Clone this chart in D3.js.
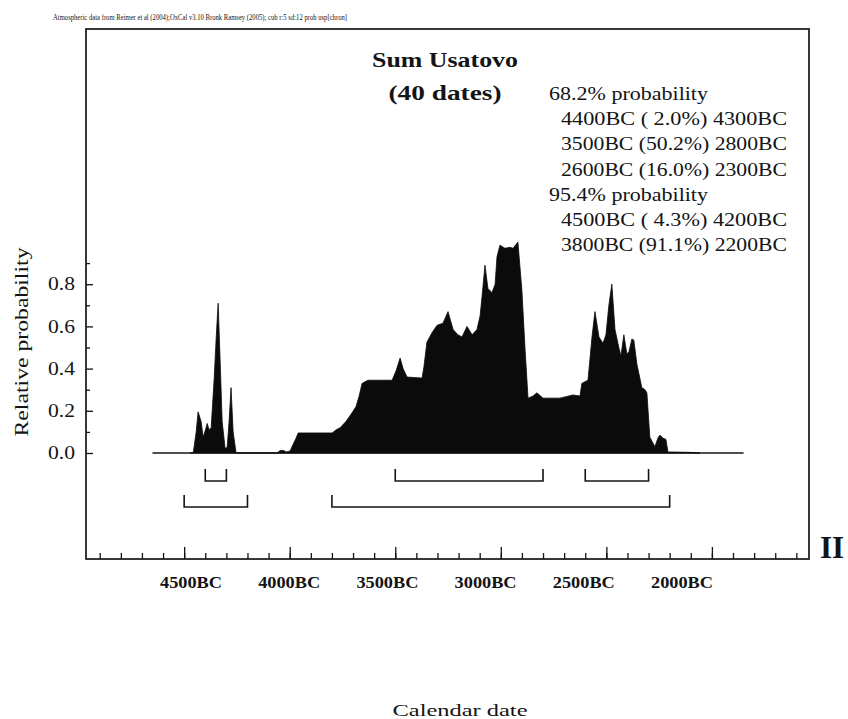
<!DOCTYPE html>
<html>
<head>
<meta charset="utf-8">
<script src="https://cdnjs.cloudflare.com/ajax/libs/d3/7.8.5/d3.min.js"></script>
<style>
  body { margin: 0; background: #fff; }
  svg { display: block; }
  text { font-family: "Liberation Serif", "Times New Roman", serif; fill: #141414; }
</style>
</head>
<body>
<svg width="848" height="719"></svg>
<script>
//Summed probability curve, years BC and relative probability
let curveYears = [4470, 4457, 4443, 4434, 4420, 4410, 4396, 4391, 4382, 4372, 4358, 4348, 4339, 4330, 4320, 4306, 4296, 4287, 4278, 4268, 4254, 4240,
  4060, 4045, 4030, 4015, 3998, 3989, 3970, 3960, 3799, 3780, 3761, 3733, 3705, 3686, 3671, 3657, 3629, 3515, 3496, 3477, 3463, 3444,
  3373, 3364, 3350, 3326, 3302, 3274, 3250, 3226, 3203, 3184, 3160, 3136, 3113, 3098, 3089, 3075, 3061, 3042, 3027, 3018, 3004,
  2980, 2956, 2942, 2919, 2900, 2885, 2871, 2847, 2829, 2800, 2720, 2658, 2625, 2616, 2587, 2568, 2554, 2535, 2516, 2502,
  2488, 2474, 2459, 2441, 2431, 2417, 2403, 2393, 2379, 2370, 2355, 2332, 2317, 2308, 2294, 2270, 2256, 2246, 2232, 2218,
  2208, 2150, 2104, 2057];
let curveValues = [0, 0, 0.10, 0.195, 0.15, 0.075, 0.12, 0.14, 0.11, 0.12, 0.35, 0.55, 0.71, 0.45, 0.15, 0.02, 0.03, 0.15, 0.31, 0.10, 0, 0,
  0, 0.012, 0.012, 0.005, 0.01, 0.03, 0.07, 0.095, 0.095, 0.11, 0.12, 0.15, 0.19, 0.22, 0.27, 0.33, 0.345, 0.345, 0.39, 0.45, 0.40, 0.36,
  0.355, 0.41, 0.525, 0.57, 0.605, 0.615, 0.67, 0.585, 0.56, 0.55, 0.60, 0.56, 0.585, 0.65, 0.74, 0.89, 0.78, 0.76, 0.80, 0.93, 0.985,
  0.97, 0.975, 0.97, 1.0, 0.77, 0.49, 0.26, 0.27, 0.285, 0.26, 0.26, 0.275, 0.27, 0.33, 0.345, 0.55, 0.67, 0.55, 0.52, 0.56,
  0.70, 0.80, 0.585, 0.50, 0.46, 0.56, 0.47, 0.48, 0.54, 0.535, 0.42, 0.31, 0.30, 0.285, 0.075, 0.03, 0.07, 0.085, 0.07, 0.065,
  0.005, 0.004, 0.003, 0];

//Extent of the flat zero line under the curve
let baseYears = [4650, 1850];

//Highest posterior density ranges (start BC, end BC)
let range68 = [[4400, 4300], [3500, 2800], [2600, 2300]];
let range95 = [[4500, 4200], [3800, 2200]];

//Axis values
let xMajorTicks = [4500, 4000, 3500, 3000, 2500, 2000];
let xTickLabels = ["4500BC", "4000BC", "3500BC", "3000BC", "2500BC", "2000BC"];
let xMinorTicks = d3.range(4900, 1599, -100);
let yMajorTicks = [0, 0.2, 0.4, 0.6, 0.8];
let yMinorTicks = [0.1, 0.3, 0.5, 0.7, 0.9];

//Texts
let headerText = "Atmospheric data from Reimer et al (2004);OxCal v3.10 Bronk Ramsey (2005); cub r:5 sd:12 prob usp[chron]";
let titleLines = ["Sum Usatovo", "(40 dates)"];
let rangeLines = ["68.2% probability", "4400BC ( 2.0%) 4300BC", "3500BC (50.2%) 2800BC", "2600BC (16.0%) 2300BC",
  "95.4% probability", "4500BC ( 4.3%) 4200BC", "3800BC (91.1%) 2200BC"];

let svg = d3.select("svg");
let frame = {left: 86, right: 809, top: 29, bottom: 559};
let ink = "#141414";

//Scales: calendar years BC run from left (older) to right
let x = d3.scaleLinear().domain([4965, 1540]).range([frame.left, frame.right]);
let y = d3.scaleLinear().domain([0, 1]).range([453, 242]);
//The printed year labels sit slightly off the tick marks in the scan
let xLabel = d3.scaleLinear().domain([4500, 2000]).range([191, 682]);

//Header line above the frame
svg.append("text")
  .attr("x", 53).attr("y", 20)
  .attr("font-size", 8.5)
  .attr("textLength", 294).attr("lengthAdjust", "spacingAndGlyphs")
  .text(headerText);

//Curve
let area = d3.area()
  .x((d, i) => x(curveYears[i]))
  .y0(y(0))
  .y1(d => y(d));

svg.append("line")
  .attr("x1", x(baseYears[0])).attr("x2", x(baseYears[1]))
  .attr("y1", y(0)).attr("y2", y(0))
  .attr("stroke", ink).attr("stroke-width", 1.6);

svg.append("path")
  .datum(curveValues)
  .attr("d", area)
  .attr("fill", "#0b0b0b")
  .attr("stroke", "#0b0b0b")
  .attr("stroke-width", 0.8)
  .attr("stroke-linejoin", "round");

//Range brackets under the curve
function drawBrackets(ranges, yLine) {
  let g = svg.append("g");
  ranges.forEach(function(r) {
    let x1 = x(r[0]), x2 = x(r[1]);
    g.append("path")
      .attr("d", "M" + x1 + "," + (yLine - 12) + "V" + yLine + "H" + x2 + "V" + (yLine - 12))
      .attr("fill", "none")
      .attr("stroke", ink)
      .attr("stroke-width", 1.6);
  });
}
drawBrackets(range68, 481);
drawBrackets(range95, 507);

//Frame
svg.append("rect")
  .attr("x", frame.left).attr("y", frame.top)
  .attr("width", frame.right - frame.left)
  .attr("height", frame.bottom - frame.top)
  .attr("fill", "none")
  .attr("stroke", "#222")
  .attr("stroke-width", 1.8);

//X ticks point up into the frame
svg.append("g")
  .attr("transform", "translate(0," + frame.bottom + ")")
  .call(d3.axisBottom(x).tickValues(xMinorTicks).tickSize(-6).tickFormat(""))
  .call(g => g.select(".domain").remove())
  .selectAll("line").attr("stroke", ink).attr("stroke-width", 1.3);

svg.append("g")
  .attr("transform", "translate(0," + frame.bottom + ")")
  .call(d3.axisBottom(x).tickValues(xMajorTicks).tickSize(-12).tickFormat(""))
  .call(g => g.select(".domain").remove())
  .selectAll("line").attr("stroke", ink).attr("stroke-width", 1.3);

//X tick labels
svg.append("g")
  .selectAll("text")
  .data(xMajorTicks)
  .enter().append("text")
  .attr("x", d => xLabel(d))
  .attr("y", 588)
  .attr("text-anchor", "middle")
  .attr("font-size", 16)
  .attr("font-weight", "bold")
  .attr("textLength", 62).attr("lengthAdjust", "spacingAndGlyphs")
  .text((d, i) => xTickLabels[i]);

//Y ticks point right into the frame
svg.append("g")
  .attr("transform", "translate(" + frame.left + ",0)")
  .call(d3.axisLeft(y).tickValues(yMinorTicks).tickSize(-4).tickFormat(""))
  .call(g => g.select(".domain").remove())
  .selectAll("line").attr("stroke", ink).attr("stroke-width", 1.3);

let yAxisG = svg.append("g")
  .attr("transform", "translate(" + frame.left + ",0)")
  .call(d3.axisLeft(y).tickValues(yMajorTicks).tickSize(-7).tickPadding(11).tickFormat(d3.format(".1f")));
yAxisG.select(".domain").remove();
yAxisG.selectAll("line").attr("stroke", ink).attr("stroke-width", 1.3);
yAxisG.selectAll("text")
  .attr("font-family", "'Liberation Serif', 'Times New Roman', serif")
  .attr("font-size", 18)
  .attr("fill", ink)
  .attr("textLength", 27).attr("lengthAdjust", "spacingAndGlyphs");

//Y axis title
svg.append("text")
  .attr("transform", "translate(28,342) rotate(-90)")
  .attr("text-anchor", "middle")
  .attr("font-size", 19)
  .attr("textLength", 189).attr("lengthAdjust", "spacingAndGlyphs")
  .text("Relative probability");

//Title
svg.append("text")
  .attr("x", 445).attr("y", 67)
  .attr("text-anchor", "middle")
  .attr("font-size", 21).attr("font-weight", "bold")
  .attr("textLength", 146).attr("lengthAdjust", "spacingAndGlyphs")
  .text(titleLines[0]);
svg.append("text")
  .attr("x", 445).attr("y", 100)
  .attr("text-anchor", "middle")
  .attr("font-size", 21).attr("font-weight", "bold")
  .attr("textLength", 113).attr("lengthAdjust", "spacingAndGlyphs")
  .text(titleLines[1]);

//Probability ranges text
svg.append("g")
  .selectAll("text")
  .data(rangeLines)
  .enter().append("text")
  .attr("x", d => d.indexOf("probability") >= 0 ? 549 : 561)
  .attr("y", (d, i) => 100 + i * 25.2)
  .attr("font-size", 19)
  .attr("textLength", d => d.indexOf("probability") >= 0 ? 159 : 226)
  .attr("lengthAdjust", "spacingAndGlyphs")
  .text(d => d);

//Plate number
svg.append("text")
  .attr("x", 820).attr("y", 558)
  .attr("font-size", 31).attr("font-weight", "bold")
  .text("II");

//X axis title
svg.append("text")
  .attr("x", 460).attr("y", 716)
  .attr("text-anchor", "middle")
  .attr("font-size", 17)
  .attr("textLength", 135).attr("lengthAdjust", "spacingAndGlyphs")
  .text("Calendar date");
</script>
</body>
</html>
